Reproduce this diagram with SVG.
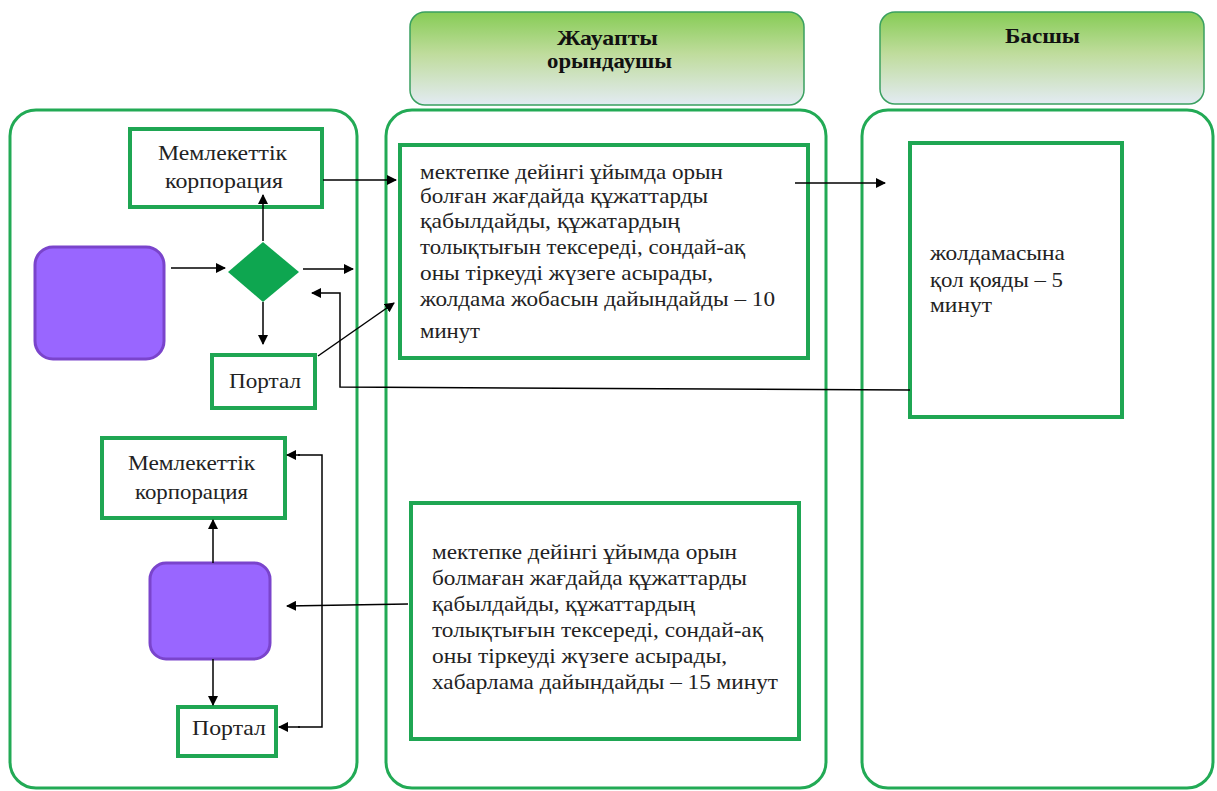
<svg xmlns="http://www.w3.org/2000/svg" width="1217" height="791" viewBox="0 0 1217 791">
<defs>
<linearGradient id="hdr" x1="0" y1="0" x2="0" y2="1">
<stop offset="0" stop-color="#86cc55"/>
<stop offset="0.45" stop-color="#bfdc9c"/>
<stop offset="1" stop-color="#e3ebf3"/>
</linearGradient>
<marker id="ah" viewBox="0 0 10 10" refX="9" refY="5" markerWidth="10" markerHeight="10" markerUnits="userSpaceOnUse" orient="auto">
<path d="M0,0 L10,5 L0,10 z" fill="#000"/>
</marker>
</defs>
<style>
.lane{fill:#fff;stroke:#22aa55;stroke-width:3}
.hdr{fill:url(#hdr);stroke:#3aa060;stroke-width:1.5}
.box{fill:#fff;stroke:#1fa653;stroke-width:4}
.purple{fill:#9966ff;stroke:#7a44cc;stroke-width:3}
.t{font-family:'Liberation Serif',serif;font-size:21px;fill:#222}
.h{font-family:'Liberation Serif',serif;font-size:21px;font-weight:bold;fill:#111}
.c{stroke:#000;stroke-width:1.5;fill:none}
</style>
<rect width="1217" height="791" fill="#fff"/>
<g id="lane-left"><rect class="lane" x="10" y="110" width="347" height="678" rx="26"/></g>
<g id="lane-mid"><rect class="lane" x="386" y="110" width="440" height="678" rx="26"/></g>
<g id="lane-right"><rect class="lane" x="862" y="110" width="351" height="678" rx="26"/></g>
<g id="header-mid"><rect class="hdr" x="410" y="12" width="394" height="93" rx="15"/>
<text class="h" x="557" y="45" textLength="101" lengthAdjust="spacingAndGlyphs">Жауапты</text>
<text class="h" x="547" y="68" textLength="125" lengthAdjust="spacingAndGlyphs">орындаушы</text></g>
<g id="header-right"><rect class="hdr" x="880" y="12" width="324" height="92" rx="15"/>
<text class="h" x="1005" y="43" textLength="75" lengthAdjust="spacingAndGlyphs">Басшы</text></g>
<g id="corp1"><rect class="box" x="130" y="129" width="192" height="78"/>
<text class="t" x="158" y="160" textLength="129" lengthAdjust="spacingAndGlyphs">Мемлекеттік</text>
<text class="t" x="165" y="188" textLength="118" lengthAdjust="spacingAndGlyphs">корпорация</text></g>
<g id="start1"><rect class="purple" x="35" y="247" width="129" height="112" rx="18"/></g>
<g id="decision"><polygon points="263,242 299,272 263,302 228,272" fill="#0ea650"/></g>
<g id="portal1"><rect class="box" x="212" y="355" width="103" height="53"/>
<text class="t" x="229" y="388" textLength="72" lengthAdjust="spacingAndGlyphs">Портал</text></g>
<g id="task1"><rect class="box" x="400" y="145" width="408" height="213"/>
<text class="t" x="420" y="179" textLength="303" lengthAdjust="spacingAndGlyphs">мектепке дейінгі ұйымда орын</text>
<text class="t" x="420" y="203" textLength="288" lengthAdjust="spacingAndGlyphs">болған жағдайда құжаттарды</text>
<text class="t" x="420" y="228" textLength="260" lengthAdjust="spacingAndGlyphs">қабылдайды, құжатардың</text>
<text class="t" x="420" y="254" textLength="325" lengthAdjust="spacingAndGlyphs">толықтығын тексереді, сондай-ақ</text>
<text class="t" x="420" y="280" textLength="293" lengthAdjust="spacingAndGlyphs">оны тіркеуді жүзеге асырады,</text>
<text class="t" x="420" y="306" textLength="355" lengthAdjust="spacingAndGlyphs">жолдама жобасын дайындайды – 10</text>
<text class="t" x="420" y="338" textLength="60" lengthAdjust="spacingAndGlyphs">минут</text></g>
<g id="task2"><rect class="box" x="910" y="143" width="212" height="274"/>
<text class="t" x="930" y="260" textLength="135" lengthAdjust="spacingAndGlyphs">жолдамасына</text>
<text class="t" x="930" y="287" textLength="133" lengthAdjust="spacingAndGlyphs">қол қояды – 5</text>
<text class="t" x="930" y="312" textLength="62" lengthAdjust="spacingAndGlyphs">минут</text></g>
<g id="corp2"><rect class="box" x="102" y="438" width="183" height="80"/>
<text class="t" x="128" y="470" textLength="127" lengthAdjust="spacingAndGlyphs">Мемлекеттік</text>
<text class="t" x="135" y="499" textLength="113" lengthAdjust="spacingAndGlyphs">корпорация</text></g>
<g id="start2"><rect class="purple" x="150" y="563" width="120" height="96" rx="16"/></g>
<g id="portal2"><rect class="box" x="178" y="707" width="98" height="49"/>
<text class="t" x="192" y="735" textLength="74" lengthAdjust="spacingAndGlyphs">Портал</text></g>
<g id="task3"><rect class="box" x="411" y="503" width="388" height="236"/>
<text class="t" x="432" y="559" textLength="305" lengthAdjust="spacingAndGlyphs">мектепке дейінгі ұйымда орын</text>
<text class="t" x="432" y="585" textLength="315" lengthAdjust="spacingAndGlyphs">болмаған жағдайда құжаттарды</text>
<text class="t" x="432" y="611" textLength="263" lengthAdjust="spacingAndGlyphs">қабылдайды, құжаттардың</text>
<text class="t" x="432" y="637" textLength="331" lengthAdjust="spacingAndGlyphs">толықтығын тексереді, сондай-ақ</text>
<text class="t" x="432" y="663" textLength="295" lengthAdjust="spacingAndGlyphs">оны тіркеуді жүзеге асырады,</text>
<text class="t" x="432" y="689" textLength="346" lengthAdjust="spacingAndGlyphs">хабарлама дайындайды – 15 минут</text></g>
<g id="connectors">
<line class="c" x1="171" y1="268" x2="225" y2="268" marker-end="url(#ah)"/>
<line class="c" x1="263" y1="241" x2="263" y2="195" marker-end="url(#ah)"/>
<line class="c" x1="263" y1="302" x2="263" y2="344" marker-end="url(#ah)"/>
<line class="c" x1="303" y1="269" x2="353" y2="269" marker-end="url(#ah)"/>
<line class="c" x1="323" y1="180" x2="396" y2="180" marker-end="url(#ah)"/>
<line class="c" x1="318" y1="356" x2="394" y2="303" marker-end="url(#ah)"/>
<polyline class="c" points="910,390 340,387 340,293 312,293" marker-end="url(#ah)"/>
<line class="c" x1="795" y1="183" x2="885" y2="183" marker-end="url(#ah)"/>
<line class="c" x1="408" y1="604" x2="287" y2="606" marker-end="url(#ah)"/>
<line class="c" x1="213" y1="563" x2="213" y2="520" marker-end="url(#ah)"/>
<line class="c" x1="213" y1="659" x2="213" y2="705" marker-end="url(#ah)"/>
<polyline class="c" points="298,455 322,455 322,727 298,727"/>
<line class="c" x1="300" y1="455" x2="287" y2="455" marker-end="url(#ah)"/>
<line class="c" x1="300" y1="727" x2="279" y2="727" marker-end="url(#ah)"/>
</g>
</svg>
